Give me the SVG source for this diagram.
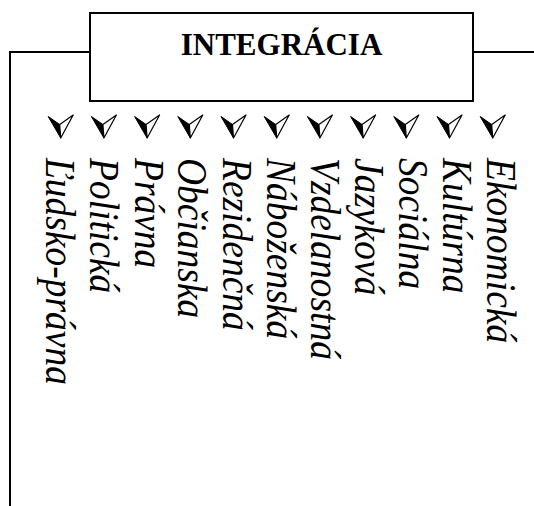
<svg xmlns="http://www.w3.org/2000/svg" width="534" height="506" viewBox="0 0 534 506">
<style>
.ln{fill:none;stroke:#000;stroke-width:2}
.title{font-family:"Liberation Serif","Times New Roman",serif;font-weight:bold;font-size:31px;fill:#000;text-anchor:middle}
.lbl{font-family:"Liberation Serif","Times New Roman",serif;font-style:italic;font-size:37.5px;fill:#000}
</style>
<defs>
<g id="ah">
<polygon points="-12.5,-21.5 -1,-13.5 0,0" fill="#000" stroke="#000" stroke-width="1" stroke-linejoin="round"/>
<polygon points="-1,-13.5 12.5,-23 0,0" fill="#fff" stroke="#000" stroke-width="1.2" stroke-linejoin="round"/>
</g>
</defs>
<rect width="534" height="506" fill="#fff"/>
<g id="connectors">
<polyline class="ln" points="90,52 10,52 10,506"/>
<line class="ln" x1="473" y1="52" x2="534" y2="52"/>
</g>
<g id="integracia">
<rect class="ln" x="90" y="13" width="383" height="88"/>
<text class="title" x="281.5" y="55">INTEGRÁCIA</text>
</g>
<g id="arrows">
<use href="#ah" x="60.7" y="138"/>
<use href="#ah" x="103.9" y="138"/>
<use href="#ah" x="147.1" y="138"/>
<use href="#ah" x="190.3" y="138"/>
<use href="#ah" x="233.5" y="138"/>
<use href="#ah" x="276.7" y="138"/>
<use href="#ah" x="319.9" y="138"/>
<use href="#ah" x="363.1" y="138"/>
<use href="#ah" x="406.3" y="138"/>
<use href="#ah" x="449.5" y="138"/>
<use href="#ah" x="492.7" y="138"/>
</g>
<g id="ludsko"><text class="lbl" transform="translate(46,158) rotate(90) scale(1,1.1)">Ľudsko-právna</text></g>
<g id="politicka"><text class="lbl" transform="translate(90,158) rotate(90) scale(1,1.1)">Politická</text></g>
<g id="pravna"><text class="lbl" transform="translate(134.5,158) rotate(90) scale(1,1.1)">Právna</text></g>
<g id="obcianska"><text class="lbl" transform="translate(178,158) rotate(90) scale(1,1.1)">Občianska</text></g>
<g id="rezidencna"><text class="lbl" transform="translate(222.5,158) rotate(90) scale(1,1.1)">Rezidenčná</text></g>
<g id="nabozenska"><text class="lbl" transform="translate(266.5,158) rotate(90) scale(1,1.1)">Náboženská</text></g>
<g id="vzdelanostna"><text class="lbl" transform="translate(310.5,158) rotate(90) scale(1,1.1)">Vzdelanostná</text></g>
<g id="jazykova"><text class="lbl" transform="translate(355,158) rotate(90) scale(1,1.1)">Jazyková</text></g>
<g id="socialna"><text class="lbl" transform="translate(399,158) rotate(90) scale(1,1.1)">Sociálna</text></g>
<g id="kulturna"><text class="lbl" transform="translate(443,158) rotate(90) scale(1,1.1)">Kultúrna</text></g>
<g id="ekonomicka"><text class="lbl" transform="translate(487,158) rotate(90) scale(1,1.1)">Ekonomická</text></g>
</svg>
